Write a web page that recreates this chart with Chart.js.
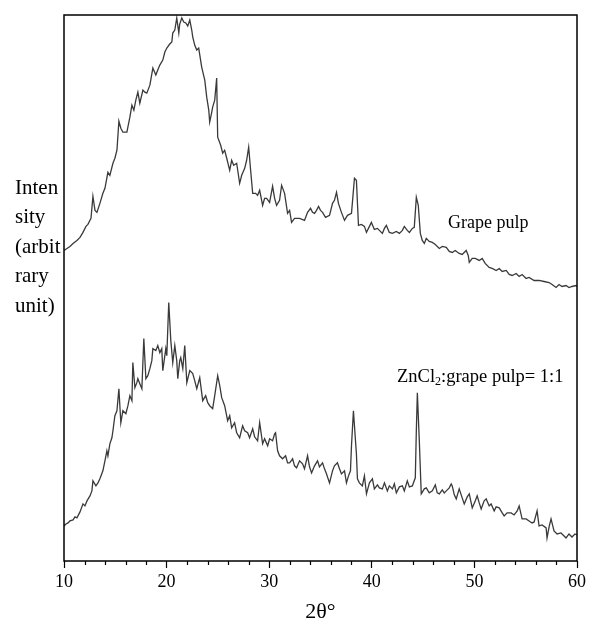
<!DOCTYPE html>
<html>
<head>
<meta charset="utf-8">
<script src="https://cdn.jsdelivr.net/npm/chart.js@4/dist/chart.umd.min.js"></script>
<style>
    html, body { margin: 0; padding: 0; background: #fff; }
    #wrap { position: relative; width: 589px; height: 619px; font-family: "Liberation Serif", "Times New Roman", serif; color: #000; }
    #xrdChart { position: absolute; left: 0; top: 0; }
    .note { position: absolute; white-space: nowrap; line-height: 1; font-size: 18px; }
    #yLabel { position: absolute; left: 15px; top: 173px; font-size: 21px; line-height: 29.4px; }
    sub { font-size: 0.65em; vertical-align: -0.25em; line-height: 0; }
</style>
</head>
<body>
<div id="wrap">
    <canvas id="xrdChart" width="589" height="619"></canvas>
    <div id="yLabel">Inten<br>sity<br>(arbit<br>rary<br>unit)</div>
    <div class="note" style="left: 448px; top: 213px;">Grape pulp</div>
    <div class="note" style="left: 397px; top: 367px; font-size: 18.5px;">ZnCl<sub>2</sub>:grape pulp= 1:1</div>
</div>
<script>
// Grape pulp pattern (2θ, intensity in arbitrary units)
const pulpTheta = [
    10.00, 10.29, 10.58, 10.88, 11.26, 11.56, 11.85, 12.14, 12.33, 12.63, 12.82, 13.02, 13.21, 13.50, 13.79, 13.99,
    14.28, 14.47, 14.77, 14.96, 15.16, 15.35, 15.54, 15.74, 16.13, 16.42, 16.62, 16.81, 17.00, 17.20, 17.39, 17.69,
    17.88, 18.07, 18.37, 18.66, 18.95, 19.14, 19.34, 19.63, 19.83, 20.02, 20.31, 20.51, 20.60, 20.80, 20.99, 21.19,
    21.28, 21.48, 21.67, 21.87, 22.06, 22.26, 22.45, 22.55, 22.74, 22.94, 23.13, 23.42, 23.72, 23.91, 24.11, 24.20,
    24.40, 24.49, 24.69, 24.88, 24.98, 25.27, 25.47, 25.66, 25.86, 26.15, 26.34, 26.54, 26.83, 27.12, 27.32, 27.61,
    27.80, 28.00, 28.19, 28.39, 28.68, 28.87, 29.07, 29.36, 29.55, 29.75, 30.04, 30.33, 30.53, 30.72, 31.01, 31.21,
    31.50, 31.79, 31.99, 32.18, 32.47, 32.96, 33.44, 33.74, 34.03, 34.22, 34.42, 34.61, 34.81, 35.00, 35.20, 35.49,
    35.88, 36.17, 36.36, 36.56, 36.75, 37.04, 37.34, 37.63, 38.02, 38.21, 38.31, 38.50, 38.70, 38.99, 39.28, 39.48,
    39.77, 39.96, 40.25, 40.55, 40.74, 41.03, 41.23, 41.42, 41.71, 42.01, 42.39, 42.69, 42.98, 43.17, 43.46, 43.66,
    43.95, 44.14, 44.34, 44.53, 44.73, 44.92, 45.12, 45.31, 45.60, 45.90, 46.19, 46.58, 46.87, 47.26, 47.55, 47.84,
    48.13, 48.52, 48.81, 49.20, 49.40, 49.50, 49.79, 50.08, 50.47, 50.76, 51.05, 51.44, 51.73, 52.12, 52.42, 52.71,
    53.10, 53.39, 53.68, 54.07, 54.36, 54.65, 55.04, 55.33, 55.82, 56.30, 56.79, 57.28, 57.57, 57.96, 58.25, 58.54,
    58.93, 59.22, 59.51, 59.90, 60.00
];
const pulpIntensity = [
    310, 312, 314, 317, 320, 323, 328, 334, 336, 342, 364, 350, 348, 357, 367, 372,
    388, 385, 397, 402, 410, 439, 432, 428, 428, 443, 455, 450, 460, 468, 457, 470,
    468, 467, 475, 492, 485, 490, 495, 500, 508, 512, 516, 518, 527, 530, 542, 527,
    536, 542, 538, 537, 534, 540, 530, 523, 515, 510, 512, 493, 480, 463, 450, 438,
    448, 453, 460, 482, 423, 415, 407, 410, 402, 390, 400, 395, 397, 377, 385, 392,
    400, 413, 390, 367, 367, 365, 370, 355, 362, 362, 358, 374, 362, 355, 360, 375,
    367, 347, 350, 338, 342, 342, 340, 348, 352, 348, 347, 350, 354, 350, 348, 343,
    345, 357, 360, 368, 357, 348, 340, 345, 347, 370, 382, 380, 335, 336, 334, 328,
    334, 338, 331, 332, 330, 327, 332, 335, 328, 327, 329, 327, 330, 334, 330, 328,
    332, 333, 363, 355, 327, 320, 317, 322, 319, 318, 316, 312, 314, 313, 309, 308,
    310, 307, 306, 310, 305, 298, 302, 302, 300, 302, 297, 293, 292, 290, 292, 289,
    290, 286, 285, 287, 284, 286, 282, 283, 280, 280, 279, 278, 276, 273, 276, 274,
    275, 273, 274, 275, 274
];

// ZnCl2 : grape pulp = 1:1 pattern
const zincTheta = [
    10.00, 10.19, 10.39, 10.58, 10.88, 11.07, 11.26, 11.56, 11.85, 12.04, 12.24, 12.53, 12.72, 12.82, 13.11, 13.31,
    13.50, 13.79, 13.99, 14.18, 14.28, 14.47, 14.67, 14.77, 14.96, 15.16, 15.35, 15.54, 15.74, 16.03, 16.23, 16.42,
    16.62, 16.71, 16.91, 17.10, 17.20, 17.39, 17.59, 17.78, 17.98, 18.17, 18.37, 18.56, 18.66, 18.95, 19.14, 19.34,
    19.53, 19.63, 19.92, 20.02, 20.21, 20.41, 20.60, 20.80, 20.99, 21.09, 21.28, 21.38, 21.58, 21.77, 21.97, 22.26,
    22.55, 22.74, 22.94, 23.23, 23.52, 23.81, 24.01, 24.20, 24.49, 24.69, 24.98, 25.18, 25.37, 25.66, 25.95, 26.15,
    26.34, 26.63, 26.83, 27.12, 27.41, 27.61, 27.90, 28.09, 28.39, 28.58, 28.87, 29.07, 29.36, 29.55, 29.85, 30.04,
    30.33, 30.53, 30.62, 30.82, 31.01, 31.30, 31.60, 31.79, 31.99, 32.28, 32.47, 32.67, 32.96, 33.25, 33.44, 33.74,
    33.93, 34.13, 34.42, 34.71, 34.90, 35.20, 35.39, 35.58, 35.88, 36.17, 36.36, 36.65, 36.85, 37.04, 37.34, 37.53,
    37.73, 37.92, 38.02, 38.21, 38.41, 38.50, 38.60, 38.79, 39.08, 39.28, 39.48, 39.77, 40.06, 40.25, 40.55, 40.74,
    41.03, 41.23, 41.52, 41.71, 42.01, 42.20, 42.39, 42.69, 42.98, 43.17, 43.46, 43.66, 43.95, 44.24, 44.34, 44.44,
    44.63, 44.82, 45.12, 45.31, 45.60, 45.90, 46.19, 46.38, 46.58, 46.87, 47.06, 47.26, 47.55, 47.74, 47.84, 48.04,
    48.23, 48.52, 48.81, 49.01, 49.30, 49.50, 49.79, 50.08, 50.27, 50.47, 50.66, 50.95, 51.15, 51.44, 51.63, 51.93,
    52.12, 52.42, 52.71, 52.90, 53.19, 53.58, 53.87, 54.17, 54.36, 54.65, 55.04, 55.33, 55.62, 55.82, 56.11, 56.30,
    56.60, 56.99, 57.08, 57.28, 57.47, 57.76, 58.06, 58.44, 58.74, 58.93, 59.22, 59.51, 59.80, 60.00
];
const zincIntensity = [
    35, 37, 38, 40, 41, 44, 43, 49, 57, 55, 60, 65, 70, 80, 75, 78,
    82, 90, 100, 110, 105, 117, 123, 130, 145, 150, 172, 138, 150, 147, 155, 165,
    160, 198, 173, 178, 182, 177, 172, 222, 182, 185, 192, 200, 212, 210, 215, 208,
    212, 190, 212, 205, 258, 220, 198, 215, 200, 182, 200, 203, 192, 215, 178, 190,
    187, 180, 172, 183, 160, 165, 158, 155, 152, 165, 185, 175, 163, 155, 140, 145,
    133, 138, 128, 123, 135, 130, 128, 123, 132, 124, 120, 138, 117, 122, 115, 122,
    120, 127, 128, 110, 105, 102, 105, 98, 98, 102, 95, 93, 100, 97, 92, 105,
    94, 88, 95, 100, 94, 98, 92, 87, 78, 90, 95, 98, 92, 87, 90, 78,
    85, 90, 115, 150, 120, 107, 82, 78, 75, 85, 67, 78, 82, 72, 76, 73,
    72, 78, 70, 75, 72, 77, 68, 74, 75, 70, 80, 74, 75, 83, 130, 168,
    120, 67, 72, 73, 68, 70, 76, 68, 67, 71, 68, 70, 73, 77, 75, 66,
    62, 72, 63, 57, 64, 67, 53, 60, 65, 58, 52, 60, 62, 55, 57, 50,
    54, 53, 48, 45, 48, 48, 46, 50, 55, 42, 42, 40, 38, 39, 50, 35,
    36, 33, 23, 34, 42, 30, 27, 28, 25, 23, 27, 24, 27, 26
];

const xMin = 10;
const xMax = 60;
const majorStep = 10;
const minorStep = 2;

const toPoints = (xs, ys) => xs.map((x, i) => ({ x, y: ys[i] }));

// frame round the plot area plus the short minor ticks under the x axis
const framePlugin = {
    id: "frame",
    afterDraw(chart) {
        const { ctx, chartArea } = chart;
        const xScale = chart.scales.x;

        ctx.save();
        ctx.strokeStyle = "#000";
        ctx.lineWidth = 1.5;
        ctx.strokeRect(chartArea.left, chartArea.top, chartArea.right - chartArea.left, chartArea.bottom - chartArea.top);

        ctx.lineWidth = 1.2;
        ctx.beginPath();
        for (let v = xMin + minorStep; v < xMax; v += minorStep) {
            if (v % majorStep === 0) {
                continue;
            }
            const px = Math.round(xScale.getPixelForValue(v)) + 0.5;
            ctx.moveTo(px, chartArea.bottom);
            ctx.lineTo(px, chartArea.bottom + 4);
        }
        ctx.stroke();
        ctx.restore();
    }
};

const lineStyle = {
    borderColor: "#3a3a3a",
    borderWidth: 1.3,
    pointRadius: 0,
    tension: 0,
    fill: false
};

new Chart(document.getElementById("xrdChart"), {
    type: "line",
    data: {
        datasets: [
            { label: "Grape pulp", data: toPoints(pulpTheta, pulpIntensity), ...lineStyle },
            { label: "ZnCl2:grape pulp= 1:1", data: toPoints(zincTheta, zincIntensity), ...lineStyle }
        ]
    },
    options: {
        responsive: false,
        animation: false,
        layout: { padding: { left: 64, right: 10, top: 15, bottom: -6 } },
        plugins: {
            legend: { display: false },
            tooltip: { enabled: false }
        },
        scales: {
            x: {
                type: "linear",
                min: xMin,
                max: xMax,
                border: { display: false },
                grid: {
                    drawOnChartArea: false,
                    tickLength: 7,
                    tickColor: "#000",
                    tickWidth: 1.2
                },
                ticks: {
                    stepSize: majorStep,
                    color: "#000",
                    padding: 3,
                    maxRotation: 0,
                    font: { family: "Liberation Serif", size: 18 }
                },
                title: {
                    display: true,
                    text: "2θ°",
                    color: "#000",
                    padding: { top: 3, bottom: 0 },
                    font: { family: "Liberation Serif", size: 22 }
                }
            },
            y: {
                display: false,
                min: 0,
                max: 545
            }
        }
    },
    plugins: [framePlugin]
});
</script>
</body>
</html>
